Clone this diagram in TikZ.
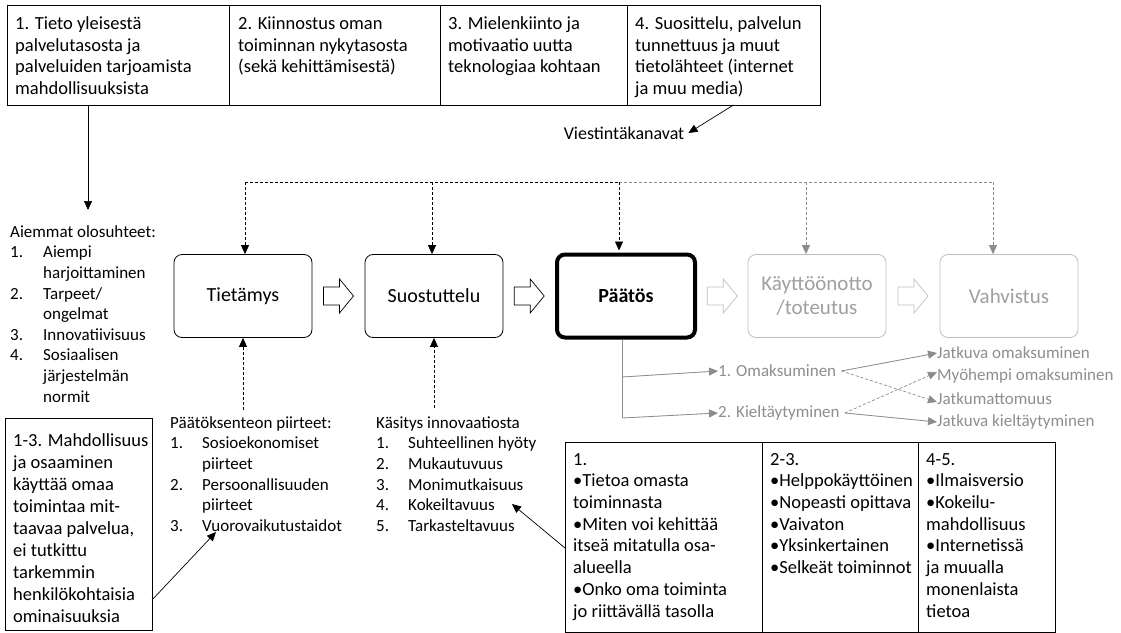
\documentclass[tikz,border=0pt]{standalone}
\usepackage{fontspec}
\setmainfont{Carlito}
\usetikzlibrary{arrows.meta,calc}
\newcommand\myfs[2]{\fontsize{#1}{#2}\selectfont}
\definecolor{boxgray}{HTML}{BFBFBF}
\definecolor{txtgray}{HTML}{A0A0A0}
\definecolor{lbltxt}{HTML}{8E8E8E}
\definecolor{lnkgray}{HTML}{8C8C8C}
\begin{document}
\begin{tikzpicture}[x=1pt,y=-1pt,
  frame/.style={draw=black, line width=0.9pt, anchor=north west, inner sep=0pt, outer sep=0pt},
  toptxt/.style={anchor=north west, inner sep=0pt, align=left, font=\myfs{18.5}{21.7}},
  listtxt/.style={anchor=north west, inner sep=0pt, font=\myfs{17}{20.6}},
  stage/.style={draw, rounded corners=8pt, minimum width=138pt, minimum height=83pt, line width=0.8pt, font=\myfs{20}{24}, align=center, inner sep=0pt},
  greystage/.style={stage, draw=boxgray, text=txtgray, font=\myfs{21}{24}},
  solidarr/.style={-{Triangle[length=9pt,width=8pt]}, line width=0.7pt},
  dasharr/.style={dash pattern=on 3pt off 2pt, -{Triangle[length=9pt,width=8pt]}, line width=0.7pt},
  garr/.style={draw=lnkgray, -{Triangle[length=9pt,width=8pt]}, line width=0.8pt, fill=lnkgray},
  gdash/.style={draw=lnkgray, dash pattern=on 3pt off 2pt, -{Triangle[length=9pt,width=8pt]}, line width=0.7pt},
  glabel/.style={anchor=west, inner sep=0pt, font=\myfs{17}{19}, text=lbltxt},
  hollow/.pic={\draw[line width=0.7pt, fill=white, pic actions] (0,-9) -- (16,-9) -- (16,-17) -- (30,0) -- (16,17) -- (16,9) -- (0,9) -- cycle;}
]
\fill[white] (0,0) rectangle (1121,632);
\useasboundingbox (0,0) rectangle (1121,632);

% top boxes
\node[frame, minimum width=222pt, minimum height=100pt] (t1) at (7,5) {};
\node[frame, minimum width=211pt, minimum height=100pt] (t2) at (229,5) {};
\node[frame, minimum width=187pt, minimum height=100pt] (t3) at (440,5) {};
\node[frame, minimum width=193pt, minimum height=100pt] (t4) at (627,5) {};
\node[toptxt] (t1x) at (15,14) {\strut 1. Tieto yleisestä\\ palvelutasosta ja\\ palveluiden tarjoamista\\ mahdollisuuksista};
\node[toptxt] (t2x) at (238,14) {\strut 2. Kiinnostus oman\\ toiminnan nykytasosta\\ (sekä kehittämisestä)};
\node[toptxt] (t3x) at (448,14) {\strut 3. Mielenkiinto ja\\ motivaatio uutta\\ teknologiaa kohtaan};
\node[toptxt] (t4x) at (635,14) {\strut 4. Suosittelu, palvelun\\ tunnettuus ja muut\\ tietolähteet (internet\\ ja muu media)};

% channels
\node[font=\myfs{18}{20}, inner sep=1pt] (vk) at (624,133) {Viestintäkanavat};
\draw[solidarr] ($(t4.south)+(10,0)$) -- ([xshift=3pt]vk.east);

% stages
\node[stage] (s1) at (243,296) {Tietämys};
\node[stage] (s2) at (434,296) {Suostuttelu};
\node[stage, line width=4pt] (s3) at (626,296) {\bfseries Päätös};
\node[greystage] (s4) at (817,296) {Käyttöönotto\\/toteutus};
\node[greystage] (s5) at (1009,296) {Vahvistus};

\pic at ($(s1.east)!0.5!(s2.west)+(-15,0)$) {hollow};
\pic at ($(s2.east)!0.5!(s3.west)+(-15,0)$) {hollow};
\pic[draw=boxgray] at ($(s3.east)!0.5!(s4.west)+(-15,0)$) {hollow};
\pic[draw=boxgray] at ($(s4.east)!0.5!(s5.west)+(-15,0)$) {hollow};

\coordinate (c1) at (245,182);
\coordinate (c2) at (432,182);
\coordinate (c3) at (619,182);
\coordinate (c4) at (806,182);
\coordinate (c5) at (993,182);
\draw[dash pattern=on 3pt off 2pt, line width=0.7pt] (c1) -- (c3);
\draw[dash pattern=on 3pt off 2pt, line width=0.7pt, draw=lnkgray] (c3) -- (c5);
\draw[dasharr] (c1) -- (c1 |- s1.north);
\draw[dasharr] (c2) -- (c2 |- s2.north);
\draw[dasharr, shorten >=2pt] (c3) -- (c3 |- s3.north);
\draw[gdash] (c4) -- (c4 |- s4.north);
\draw[gdash] (c5) -- (c5 |- s5.north);

% left list
\node[listtxt] (aiem) at (10,222.6) {\begin{tabular}[t]{@{}p{33pt}@{}l@{}}\multicolumn{2}{@{}l@{}}{Aiemmat olosuhteet:}\\ 1. & Aiempi\\ & harjoittaminen\\ 2. & Tarpeet/\\ & ongelmat\\ 3. & Innovatiivisuus\\ 4. & Sosiaalisen\\ & järjestelmän\\ & normit\end{tabular}};
\coordinate (a1) at (88,210);
\draw[solidarr] (t1.south -| a1) -- (a1);

% decision traits
\node[listtxt] (pp) at (170,413.6) {\begin{tabular}[t]{@{}p{32pt}@{}l@{}}\multicolumn{2}{@{}l@{}}{Päätöksenteon piirteet:}\\ 1. & Sosioekonomiset\\ & piirteet\\ 2. & Persoonallisuuden\\ & piirteet\\ 3. & Vuorovaikutustaidot\end{tabular}};
\coordinate (p1) at (243,410);
\draw[dasharr] (p1) -- (p1 |- s1.south);

\node[listtxt] (ki) at (376,413.6) {\begin{tabular}[t]{@{}p{32pt}@{}l@{}}\multicolumn{2}{@{}l@{}}{Käsitys innovaatiosta}\\ 1. & Suhteellinen hyöty\\ 2. & Mukautuvuus\\ 3. & Monimutkaisuus\\ 4. & Kokeiltavuus\\ 5. & Tarkasteltavuus\end{tabular}};
\coordinate (k1) at (434,408);
\draw[dasharr] (k1) -- (k1 |- s2.south);

% bottom left box
\node[frame, minimum width=147pt, minimum height=212pt] (bl) at (5,418) {};
\node[anchor=north west, inner sep=0pt, align=left, font=\myfs{18.5}{22}] (blt) at (13,430.6) {\strut 1-3. Mahdollisuus\\ ja osaaminen\\ käyttää omaa\\ toimintaa mit-\\ taavaa palvelua,\\ ei tutkittu\\ tarkemmin\\ henkilökohtaisia\\ ominaisuuksia};
\coordinate (pe) at (216,532);
\draw[solidarr] (bl.east |- 0,600) -- (pe);

% bottom right boxes
\node[frame, minimum width=197pt, minimum height=190pt] (r1) at (565,442) {};
\node[frame, minimum width=156pt, minimum height=190pt] (r2) at (762,442) {};
\node[frame, minimum width=137pt, minimum height=190pt] (r3) at (918,442) {};
\node[toptxt] (r1x) at (573,449.8) {\strut 1.\\ •Tietoa omasta\\ toiminnasta\\ •Miten voi kehittää\\ itseä mitatulla osa-\\ alueella\\ •Onko oma toiminta\\ jo riittävällä tasolla};
\node[toptxt] (r2x) at (770,449.8) {\strut 2-3.\\ •Helppokäyttöinen\\ •Nopeasti opittava\\ •Vaivaton\\ •Yksinkertainen\\ •Selkeät toiminnot};
\node[toptxt] (r3x) at (926,449.8) {\strut 4-5.\\ •Ilmaisversio\\ •Kokeilu-\\ mahdollisuus\\ •Internetissä\\ ja muualla\\ monenlaista\\ tietoa};
\coordinate (ke) at (512,504);
\draw[solidarr] (r1.west |- 0,548) -- (ke);

% outcomes
\node[glabel] (om) at (718,371) {1. Omaksuminen};
\node[glabel] (kt) at (718,413) {2. Kieltäytyminen};
\node[glabel] (rjo) at (937,353) {Jatkuva omaksuminen};
\node[glabel] (rmy) at (937,376) {Myöhempi omaksuminen};
\node[glabel] (rja) at (937,399) {Jatkumattomuus};
\node[glabel] (rjk) at (937,422) {Jatkuva kieltäytyminen};
\coordinate (v1) at (622,377);
\coordinate (v2) at (622,418);
\draw[draw=lnkgray, line width=0.8pt] (v1 |- s3.south) -- (v2);
\draw[garr] (v1) -- (om.west);
\draw[garr] (v2) -- (kt.west);
\draw[garr] ([xshift=5pt]om.east) -- (rjo.west);
\draw[gdash] ([xshift=5pt]om.east) -- ([yshift=-3pt]rja.west);
\draw[gdash] ([xshift=5pt]kt.east) -- ([yshift=4pt]rmy.west);
\draw[garr] ([xshift=5pt]kt.east) -- (rjk.west);
\end{tikzpicture}
\end{document}
